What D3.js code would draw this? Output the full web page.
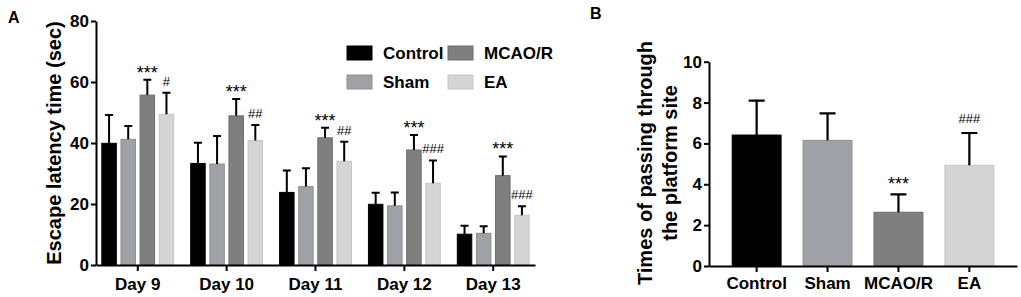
<!DOCTYPE html>
<html>
<head>
<meta charset="utf-8">
<script src="https://cdn.jsdelivr.net/npm/d3@7"></script>
<style>
    body { margin: 0; background: #fff; }
    text { font-family: Arial, "Liberation Sans", sans-serif; }
</style>
</head>
<body>
<div id="canvas"></div>
<script>
"use strict";

/* =========================
   DATA
   ========================= */

let days = ["Day 9", "Day 10", "Day 11", "Day 12", "Day 13"];
let groups = ["Control", "Sham", "MCAO/R", "EA"];

/* Panel A: escape latency (sec), mean and upper SD */
let controlLatency = [39.9, 33.3, 23.8, 19.9, 10.1];
let controlLatencyErr = [9.3, 6.8, 7.2, 3.8, 2.8];
let shamLatency = [41.2, 33.1, 25.7, 19.4, 10.4];
let shamLatencyErr = [4.4, 9.2, 6.0, 4.4, 2.3];
let mcaoLatency = [55.7, 48.9, 41.7, 37.7, 29.3];
let mcaoLatencyErr = [5.0, 5.5, 3.3, 4.9, 6.3];
let eaLatency = [49.4, 40.8, 34.0, 26.8, 16.3];
let eaLatencyErr = [7.1, 5.1, 6.4, 7.5, 3.0];

let mcaoLatencyMark = ["***", "***", "***", "***", "***"];
let eaLatencyMark = ["#", "##", "##", "###", "###"];

let latencyTicks = [0, 20, 40, 60, 80];

/* Panel B: times of passing through the platform site */
let passMean = [6.41, 6.15, 2.63, 4.93];
let passErr = [1.68, 1.32, 0.88, 1.58];
let passMark = ["", "", "***", "###"];

let passTicks = [0, 2, 4, 6, 8, 10];

let fills = ["#000000", "#a0a0a7", "#7f7f7f", "#d5d5d5"];
let strokes = ["#000000", "#8e8e95", "#6c6c6c", "#c6c6c6"];

/* =========================
   CANVAS
   ========================= */

let svgWidth = 1021;
let svgHeight = 297;

let svg = d3.select("#canvas")
    .append("svg")
    .attr("width", svgWidth)
    .attr("height", svgHeight);

function styleAxis(g, size) {
    g.selectAll("path, line")
        .attr("stroke", "black")
        .attr("stroke-width", 2);
    g.selectAll("text")
        .attr("font-size", size)
        .attr("font-weight", "bold")
        .attr("fill", "black");
}

/* =========================
   PANEL A
   ========================= */

let latencyRows = days.map(function(day, i) {
    return {
        day: day,
        values: [
            {group: 0, mean: controlLatency[i], err: controlLatencyErr[i], mark: ""},
            {group: 1, mean: shamLatency[i], err: shamLatencyErr[i], mark: ""},
            {group: 2, mean: mcaoLatency[i], err: mcaoLatencyErr[i], mark: mcaoLatencyMark[i]},
            {group: 3, mean: eaLatency[i], err: eaLatencyErr[i], mark: eaLatencyMark[i]}
        ]
    };
});

let x0A = d3.scaleBand()
    .domain(days)
    .range([96, 535])
    .paddingInner(0.18)
    .paddingOuter(0.06);

let x1A = d3.scaleBand()
    .domain(d3.range(groups.length))
    .range([0, x0A.bandwidth()])
    .paddingInner(0.19);

let yA = d3.scaleLinear()
    .domain([0, 80])
    .range([265, 21]);

let dayG = svg.selectAll("g.day")
    .data(latencyRows)
    .join("g")
    .attr("class", "day")
    .attr("transform", d => "translate(" + x0A(d.day) + ",0)");

/* bars */
dayG.selectAll("rect")
    .data(d => d.values)
    .join("rect")
    .attr("x", d => x1A(d.group) + 0.5)
    .attr("y", d => yA(d.mean))
    .attr("width", x1A.bandwidth() - 1)
    .attr("height", d => yA(0) - yA(d.mean))
    .attr("fill", d => fills[d.group])
    .attr("stroke", d => strokes[d.group])
    .attr("stroke-width", 1);

/* error bars (upper only) */
dayG.selectAll("path.err")
    .data(d => d.values)
    .join("path")
    .attr("class", "err")
    .attr("d", function(d) {
        let cx = x1A(d.group) + x1A.bandwidth() / 2;
        let top = yA(d.mean + d.err);
        return "M" + cx + "," + yA(d.mean) + "V" + top +
            "M" + (cx - 4) + "," + top + "H" + (cx + 4);
    })
    .attr("fill", "none")
    .attr("stroke", "black")
    .attr("stroke-width", 2);

/* significance marks */
dayG.selectAll("text.mark")
    .data(d => d.values.filter(v => v.mark !== ""))
    .join("text")
    .attr("class", "mark")
    .attr("x", d => x1A(d.group) + x1A.bandwidth() / 2)
    .attr("y", d => d.mark[0] === "*" ? yA(d.mean + d.err) - 1 : yA(d.mean + d.err) - 7)
    .attr("text-anchor", "middle")
    .attr("font-size", d => d.mark[0] === "*" ? 18 : 13)
    .attr("fill", "black")
    .text(d => d.mark);

/* axes */
svg.append("g")
    .attr("transform", "translate(96,0)")
    .call(d3.axisLeft(yA).tickValues(latencyTicks).tickSize(5).tickSizeOuter(0).tickPadding(2))
    .call(g => styleAxis(g, 17));

svg.append("g")
    .attr("transform", "translate(0,265)")
    .call(d3.axisBottom(x0A).tickSize(6).tickSizeOuter(0).tickPadding(7))
    .call(g => styleAxis(g, 17));

svg.append("text")
    .attr("transform", "translate(61,143) rotate(-90)")
    .attr("text-anchor", "middle")
    .attr("font-size", 20)
    .attr("font-weight", "bold")
    .text("Escape latency time (sec)");

svg.append("text")
    .attr("x", 8)
    .attr("y", 23)
    .attr("font-size", 16)
    .attr("font-weight", "bold")
    .text("A");

/* legend */
let legendPos = [
    {x: 347, y: 46}, {x: 347, y: 75},
    {x: 448, y: 46}, {x: 448, y: 75}
];

groups.forEach(function(name, i) {
    svg.append("rect")
        .attr("x", legendPos[i].x)
        .attr("y", legendPos[i].y)
        .attr("width", 25)
        .attr("height", 14)
        .attr("fill", fills[i])
        .attr("stroke", strokes[i]);

    svg.append("text")
        .attr("x", legendPos[i].x + 36)
        .attr("y", legendPos[i].y + 13)
        .attr("font-size", 17)
        .attr("font-weight", "bold")
        .text(name);
});

/* =========================
   PANEL B
   ========================= */

let xB = d3.scaleBand()
    .domain(groups)
    .range([709, 1017])
    .paddingInner(0.296)
    .paddingOuter(0.32);

let yB = d3.scaleLinear()
    .domain([0, 10])
    .range([266, 61.7]);

let passRows = groups.map(function(name, i) {
    return {name: name, i: i, mean: passMean[i], err: passErr[i], mark: passMark[i]};
});

svg.selectAll("rect.passBar")
    .data(passRows)
    .join("rect")
    .attr("class", "passBar")
    .attr("x", d => xB(d.name) + 0.5)
    .attr("y", d => yB(d.mean))
    .attr("width", xB.bandwidth() - 1)
    .attr("height", d => yB(0) - yB(d.mean))
    .attr("fill", d => fills[d.i])
    .attr("stroke", d => strokes[d.i]);

svg.selectAll("path.passErr")
    .data(passRows)
    .join("path")
    .attr("class", "passErr")
    .attr("d", function(d) {
        let cx = xB(d.name) + xB.bandwidth() / 2;
        let top = yB(d.mean + d.err);
        return "M" + cx + "," + yB(d.mean) + "V" + top +
            "M" + (cx - 8) + "," + top + "H" + (cx + 8);
    })
    .attr("fill", "none")
    .attr("stroke", "black")
    .attr("stroke-width", 2.2);

svg.selectAll("text.passMark")
    .data(passRows.filter(d => d.mark !== ""))
    .join("text")
    .attr("class", "passMark")
    .attr("x", d => xB(d.name) + xB.bandwidth() / 2)
    .attr("y", d => d.mark[0] === "*" ? yB(d.mean + d.err) - 4 : yB(d.mean + d.err) - 10)
    .attr("text-anchor", "middle")
    .attr("font-size", d => d.mark[0] === "*" ? 18 : 13)
    .text(d => d.mark);

svg.append("g")
    .attr("transform", "translate(709,0)")
    .call(d3.axisLeft(yB).tickValues(passTicks).tickSize(5).tickSizeOuter(0).tickPadding(2))
    .call(g => styleAxis(g, 17));

svg.append("g")
    .attr("transform", "translate(0,266)")
    .call(d3.axisBottom(xB).tickSize(6).tickSizeOuter(0).tickPadding(5))
    .call(g => styleAxis(g, 17));

svg.append("text")
    .attr("transform", "translate(652,163) rotate(-90)")
    .attr("text-anchor", "middle")
    .attr("font-size", 20)
    .attr("font-weight", "bold")
    .text("Times of passing through");

svg.append("text")
    .attr("transform", "translate(677,163) rotate(-90)")
    .attr("text-anchor", "middle")
    .attr("font-size", 20)
    .attr("font-weight", "bold")
    .text("the platform site");

svg.append("text")
    .attr("x", 590)
    .attr("y", 19)
    .attr("font-size", 16)
    .attr("font-weight", "bold")
    .text("B");
</script>
</body>
</html>
